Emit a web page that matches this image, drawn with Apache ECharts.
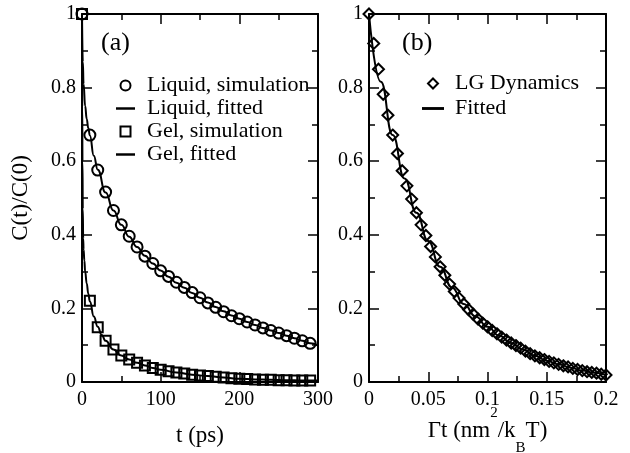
<!DOCTYPE html>
<html>
<head>
<meta charset="utf-8">
<script src="https://cdn.jsdelivr.net/npm/echarts@6/dist/echarts.min.js"></script>
<style>
html,body{margin:0;padding:0;background:#fff;}
#chart{width:630px;height:453px;}
</style>
</head>
<body>
<div id="chart"></div>
<script>
// ---- Panel (a) data ----
const simT = [0,10,20,30,40,50,60,70,80,90,100,110,120,130,140,150,160,170,180,190,200,210,220,230,240,250,260,270,280,290];
const liquidSim = [1,0.671,0.576,0.516,0.466,0.427,0.396,0.367,0.342,0.322,0.302,0.287,0.271,0.257,0.243,0.229,0.215,0.203,0.191,0.180,0.172,0.163,0.155,0.147,0.140,0.133,0.126,0.119,0.112,0.105];
const gelSim = [1,0.221,0.149,0.112,0.088,0.072,0.061,0.052,0.045,0.038,0.033,0.029,0.026,0.023,0.020,0.018,0.016,0.014,0.012,0.010,0.009,0.008,0.007,0.006,0.006,0.005,0.005,0.004,0.004,0.004];

const liquidFitT = [0,1,2,4,6,8,10,15,20,30,40,50,60,70,80,90,100,110,120,130,140,150,160,170,180,190,200,210,220,230,240,250,260,270,280,290,300];
const liquidFitY = [1,0.87,0.81,0.75,0.715,0.69,0.67,0.615,0.577,0.515,0.466,0.427,0.395,0.367,0.343,0.322,0.303,0.286,0.270,0.256,0.242,0.229,0.216,0.204,0.192,0.181,0.172,0.163,0.155,0.147,0.140,0.133,0.126,0.119,0.112,0.105,0.099];

const gelFitT = [0,0.3,0.6,1,1.5,2,3,4,6,8,10,15,20,25,30,40,50,60,70,80,90,100,120,140,160,180,200,220,240,260,280,300];
const gelFitY = [1,0.75,0.6,0.47,0.39,0.36,0.33,0.30,0.268,0.24,0.219,0.178,0.150,0.128,0.112,0.088,0.072,0.061,0.052,0.045,0.038,0.033,0.026,0.020,0.016,0.012,0.009,0.007,0.006,0.005,0.004,0.004];

// ---- Panel (b) data ----
const lgX = [0,0.004,0.008,0.012,0.016,0.020,0.024,0.028,0.032,0.036,0.040,0.044,0.048,0.052,0.056,0.060,0.064,0.068,0.072,0.076,0.080,0.084,0.088,0.092,0.096,0.100,0.104,0.108,0.112,0.116,0.120,0.124,0.128,0.132,0.136,0.140,0.144,0.148,0.152,0.156,0.160,0.164,0.168,0.172,0.176,0.180,0.184,0.188,0.192,0.196,0.200];
const lgY = [1,0.920,0.850,0.782,0.725,0.671,0.621,0.574,0.533,0.497,0.460,0.427,0.398,0.368,0.340,0.313,0.290,0.266,0.246,0.228,0.212,0.197,0.184,0.171,0.160,0.150,0.140,0.131,0.122,0.114,0.106,0.099,0.092,0.084,0.077,0.071,0.066,0.061,0.056,0.052,0.048,0.044,0.041,0.037,0.034,0.031,0.028,0.026,0.024,0.021,0.019];
const fitX = [0,0.01,0.02,0.03,0.04,0.05,0.06,0.07,0.08,0.09,0.10,0.11,0.12,0.13,0.14,0.15,0.16,0.17,0.18,0.19,0.20];
const fitY = [1,0.816,0.671,0.553,0.460,0.383,0.313,0.257,0.212,0.178,0.150,0.126,0.106,0.088,0.071,0.058,0.048,0.039,0.031,0.025,0.019];

const FONT = 'Liberation Serif';
const zip = (a, b) => a.map((v, i) => [v, b[i]]);

const chart = echarts.init(document.getElementById('chart'), null, {renderer: 'canvas'});

function xAx(grid, pos, min, max, interval, showLabel, name, nameGap, nameStyle) {
  return {
    type: 'value', gridIndex: grid, position: pos, min: min, max: max, interval: interval,
    axisLine: {show: true, onZero: false, lineStyle: {color: '#000', width: 2}},
    axisTick: {show: true, inside: true, length: 10, lineStyle: {color: '#000', width: 1.5}},
    minorTick: {show: true, splitNumber: 2, length: 6, lineStyle: {color: '#000', width: 1.5}},
    splitLine: {show: false},
    axisLabel: {show: showLabel, color: '#000', fontFamily: FONT, fontSize: 20, margin: 8},
    name: name || '', nameLocation: 'middle', nameGap: nameGap || 0, nameMoveOverlap: false,
    nameTextStyle: nameStyle || {}
  };
}
function yAx(grid, pos, showLabel, name) {
  return {
    type: 'value', gridIndex: grid, position: pos, min: 0, max: 1, interval: 0.2,
    axisLine: {show: true, onZero: false, lineStyle: {color: '#000', width: 2}},
    axisTick: {show: true, inside: true, length: 10, lineStyle: {color: '#000', width: 1.5}},
    minorTick: {show: true, splitNumber: 2, length: 6, lineStyle: {color: '#000', width: 1.5}},
    splitLine: {show: false},
    axisLabel: {show: showLabel, color: '#000', fontFamily: FONT, fontSize: 20, margin: 6},
    name: name || '', nameLocation: 'middle', nameGap: 50, nameMoveOverlap: false,
    nameTextStyle: {color: '#000', fontFamily: FONT, fontSize: 23}
  };
}

const hollow = {color: 'rgba(0,0,0,0)', borderColor: '#000', borderWidth: 2, opacity: 1};
const blackLine = {color: '#000', width: 2};
const SQUARE = 'path://M0,0L10,0L10,10L0,10Z';
const DIAMOND = 'path://M5,0L10,5L5,10L0,5Z';
const BAR = 'path://M0,0L20,0L20,2.6L0,2.6Z';
const barItem = {color: '#000', borderWidth: 0, opacity: 1};

const option = {
  animation: false,
  backgroundColor: '#fff',
  title: [
    {text: '(a)', left: 101, top: 30, padding: 0, textStyle: {fontFamily: FONT, fontSize: 26, fontWeight: 'normal', color: '#000'}},
    {text: '(b)', left: 402, top: 30, padding: 0, textStyle: {fontFamily: FONT, fontSize: 26, fontWeight: 'normal', color: '#000'}}
  ],
  grid: [
    {left: 82, top: 14, width: 236, height: 368, outerBoundsMode: 'none', containLabel: false},
    {left: 369, top: 14, width: 237, height: 368, outerBoundsMode: 'none', containLabel: false}
  ],
  xAxis: [
    xAx(0, 'bottom', 0, 300, 100, true, 't (ps)', 42, {color: '#000', fontFamily: FONT, fontSize: 23}),
    xAx(0, 'top', 0, 300, 100, false),
    xAx(1, 'bottom', 0, 0.2, 0.05, true,
      '{a|Γt (nm}{sup|2}{a|/k}{sub|B}{a|T)}', 24,
      {color: '#000', fontFamily: FONT, fontSize: 23,
       rich: {
         a: {fontFamily: FONT, fontSize: 23, color: '#000', lineHeight: 50, verticalAlign: 'middle'},
         sup: {fontFamily: FONT, fontSize: 15, color: '#000', lineHeight: 27, verticalAlign: 'top'},
         sub: {fontFamily: FONT, fontSize: 15, color: '#000', lineHeight: 9, verticalAlign: 'bottom'}
       }}),
    xAx(1, 'top', 0, 0.2, 0.05, false)
  ],
  yAxis: [
    yAx(0, 'left', true, 'C(t)/C(0)'),
    yAx(0, 'right', false),
    yAx(1, 'left', true),
    yAx(1, 'right', false)
  ],
  legend: [
    {
      data: [
        {name: 'Liquid, simulation', icon: 'circle'},
        {name: 'Liquid, fitted', icon: BAR, itemStyle: barItem},
        {name: 'Gel, simulation', icon: SQUARE},
        {name: 'Gel, fitted', icon: BAR, itemStyle: barItem}
      ],
      orient: 'vertical', left: 116, top: 74, itemWidth: 19, itemHeight: 10, itemGap: 0,
      selectedMode: false, padding: 0,
      textStyle: {fontFamily: FONT, fontSize: 22, color: '#000', lineHeight: 23, padding: [0, 0, 0, 7]}
    },
    {
      data: [
        {name: 'LG Dynamics', icon: DIAMOND},
        {name: 'Fitted', icon: BAR, itemStyle: barItem}
      ],
      orient: 'vertical', left: 422, top: 71, itemWidth: 22, itemHeight: 10, itemGap: 0,
      selectedMode: false, padding: 0,
      textStyle: {fontFamily: FONT, fontSize: 22, color: '#000', lineHeight: 25, padding: [0, 0, 0, 6]}
    }
  ],
  series: [
    {name: 'Liquid, fitted', type: 'line', xAxisIndex: 0, yAxisIndex: 0, data: zip(liquidFitT, liquidFitY),
     symbol: 'none', smooth: true, smoothMonotone: 'x', lineStyle: blackLine, itemStyle: {color: '#000'}},
    {name: 'Gel, fitted', type: 'line', xAxisIndex: 0, yAxisIndex: 0, data: zip(gelFitT, gelFitY),
     symbol: 'none', smooth: true, smoothMonotone: 'x', lineStyle: blackLine, itemStyle: {color: '#000'}},
    {name: 'Liquid, simulation', type: 'scatter', xAxisIndex: 0, yAxisIndex: 0, data: zip(simT, liquidSim),
     symbol: 'circle', symbolSize: 11, clip: false, itemStyle: hollow},
    {name: 'Gel, simulation', type: 'scatter', xAxisIndex: 0, yAxisIndex: 0, data: zip(simT, gelSim),
     symbol: 'rect', symbolSize: 10, clip: false, itemStyle: hollow},
    {name: 'Fitted', type: 'line', xAxisIndex: 2, yAxisIndex: 2, data: zip(fitX, fitY),
     symbol: 'none', smooth: true, smoothMonotone: 'x', lineStyle: blackLine, itemStyle: {color: '#000'}},
    {name: 'LG Dynamics', type: 'scatter', xAxisIndex: 2, yAxisIndex: 2, data: zip(lgX, lgY),
     symbol: 'diamond', symbolSize: 11, clip: false, itemStyle: hollow}
  ]
};
chart.setOption(option);
</script>
</body>
</html>
